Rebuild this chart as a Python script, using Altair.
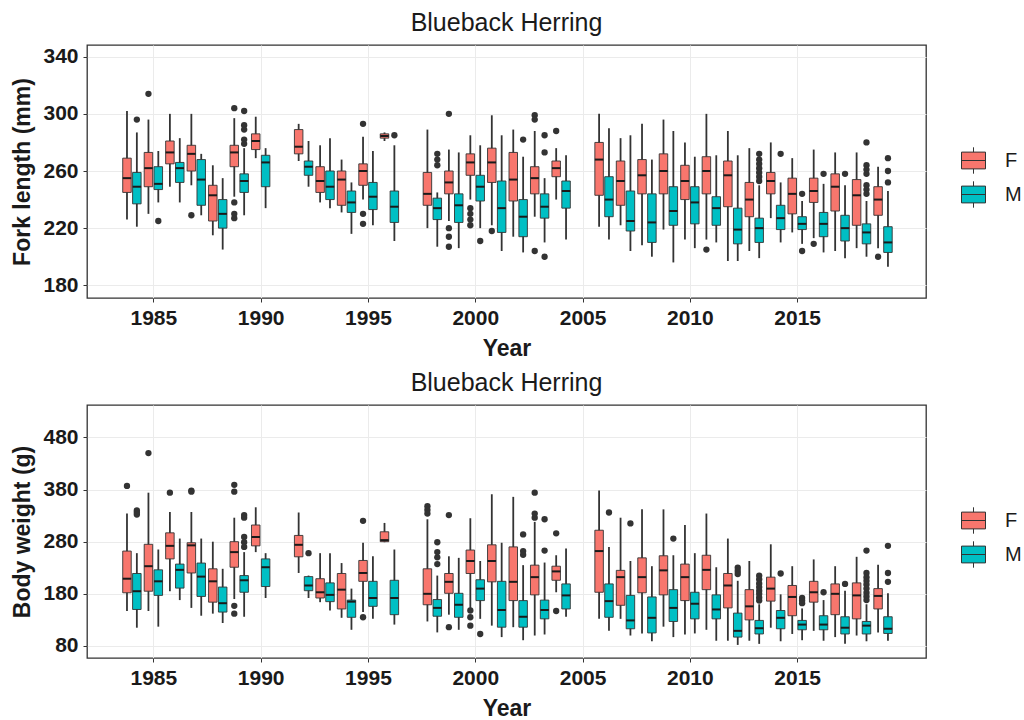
import altair as alt
import pandas as pd

years = [1984, 1985, 1986, 1987, 1988, 1989, 1990,
         1992, 1993, 1994, 1995, 1996,
         1998, 1999, 2000, 2001, 2002, 2003, 2004,
         2006, 2007, 2008, 2009, 2010, 2011, 2012, 2013, 2014, 2015, 2016, 2017, 2018, 2019]

# ---- Fork length (mm): lower whisker, Q1, median, Q3, upper whisker ----
fl_f_lo  = [226, 230, 249, 250, 215, 242, 269, 267, 238, 231, 240, 281, 220, 225, 240, 222, 214, 228, 240,
            221, 222, 208, 219, 212, 212, 197, 204, 227, 217, 213, 204, 206, 206]
fl_f_q1  = [245, 249, 265, 260, 225, 263, 275, 272, 245, 236, 250, 283, 236, 244, 257, 252, 239, 244, 256,
            243, 236, 244, 244, 240, 244, 235, 228, 244, 230, 238, 232, 222, 229]
fl_f_med = [255, 262, 273, 272, 243, 273, 281, 277, 253, 254, 260, 284.5, 244, 252, 266, 266, 254, 255, 262,
            268, 253, 257, 260, 253, 260, 257, 240, 253, 244, 246, 249, 243, 240]
fl_f_q3  = [269, 273, 281, 278, 250, 278, 286, 289, 263, 260, 265, 286, 259, 260, 272, 276, 273, 263, 267,
            280, 267, 268, 272, 264, 270, 267, 252, 259, 255, 255, 258, 254, 249]
fl_f_hi  = [302, 296, 300, 300, 264, 297, 298, 293, 278, 268, 284, 287, 289, 275, 285, 299, 289, 288, 276,
            300, 283, 293, 296, 280, 300, 288, 276, 280, 269, 275, 273, 273, 263]

fl_m_lo  = [221, 238, 238, 229, 205, 229, 234, 249, 234, 216, 222, 211, 207, 206, 220, 204, 203, 210, 212,
            212, 204, 200, 196, 206, 210, 197, 199, 210, 209, 203, 199, 200, 193]
fl_m_q1  = [237, 247, 252, 236, 220, 245, 249, 257, 240, 231, 233, 224, 226, 224, 239, 217, 214, 227, 234,
            228, 218, 210, 222, 223, 222, 209, 210, 219, 219, 214, 211, 209, 203]
fl_m_med = [249, 251, 262, 254, 230, 253, 266, 263, 249, 238, 242, 235, 234, 236, 249, 234, 228, 235, 246,
            240, 225, 224, 232, 238, 234, 219, 220, 227, 223, 223, 220, 217, 210]
fl_m_q3  = [259, 263, 266, 268, 240, 258, 271, 267, 260, 246, 252, 246, 241, 244, 257, 253, 240, 244, 253,
            256, 246, 244, 249, 249, 242, 234, 227, 236, 228, 231, 229, 223, 221]
fl_m_hi  = [287, 274, 283, 272, 255, 276, 276, 281, 283, 252, 274, 278, 245, 273, 278, 285, 270, 255, 271,
            290, 285, 268, 288, 270, 271, 271, 250, 252, 239, 251, 250, 239, 246]

fl_out_year = [1984, 1985, 1985, 1987, 1989, 1989, 1989, 1989,
               1989, 1989, 1989, 1989, 1989,
               1995, 1995, 1995, 1996, 1998, 1998, 1998,
               1999, 1999, 1999, 1999, 2000, 2000, 2000, 2000, 2000,
               2001, 2002, 2003, 2003, 2003, 2003, 2003, 2003, 2004,
               2011, 2013, 2013, 2013, 2013, 2013, 2013, 2013, 2014, 2015, 2015,
               2016, 2016, 2017, 2018, 2018, 2018, 2018, 2018, 2018, 2018,
               2019, 2019, 2019, 2019]
fl_out_sex = ["M", "F", "M", "F", "F", "F", "F", "F",
              "M", "M", "M", "M", "M",
              "F", "F", "F", "M", "M", "M", "M",
              "F", "F", "F", "F", "F", "F", "F", "F", "M",
              "F", "M", "F", "F", "F", "M", "M", "M", "F",
              "F", "M", "M", "M", "M", "M", "M", "M", "M", "M", "M",
              "F", "M", "M", "M", "M", "M", "M", "M", "M", "M",
              "F", "M", "M", "M"]
fl_out_val = [296, 314, 225, 229, 304, 238, 230, 227,
              302, 292, 289, 282, 279,
              293, 230, 223, 285, 272, 268, 264,
              300, 220, 214, 207, 234, 230, 226, 222, 211,
              218, 282, 299, 296, 204, 285, 273, 200, 288,
              205, 272, 268, 265, 262, 259, 256, 253, 272, 244, 204,
              209, 258, 258, 280, 264, 261, 258, 250, 247, 244,
              200, 269, 260, 252]

# ---- Body weight (g) ----
bw_f_lo  = [147, 147, 185, 153, 142, 170, 260, 220, 164, 134, 145, 279, 127, 140, 152, 119, 116, 100, 183,
            132, 132, 104, 117, 102, 111, 90, 90, 115, 103, 109, 97, 100, 106]
bw_f_q1  = [182, 185, 247, 220, 164, 231, 272, 251, 172, 151, 204, 280, 159, 181, 219, 203, 167, 178, 206,
            183, 158, 182, 178, 167, 188, 153, 130, 166, 138, 164, 140, 132, 151]
bw_f_med = [209, 233, 272, 273, 204, 260, 289, 274, 183, 188, 220, 283, 180, 203, 243, 243, 203, 212, 223,
            262, 212, 212, 225, 212, 226, 196, 156, 190, 174, 183, 180, 177, 176]
bw_f_q3  = [262, 275, 297, 278, 228, 280, 312, 292, 209, 219, 244, 299, 228, 219, 264, 274, 270, 235, 233,
            302, 225, 249, 253, 237, 254, 219, 188, 212, 196, 204, 199, 201, 190]
bw_f_hi  = [334, 374, 337, 337, 280, 326, 346, 336, 258, 239, 278, 316, 323, 252, 325, 371, 366, 318, 254,
            378, 326, 342, 342, 312, 334, 286, 243, 275, 233, 246, 233, 251, 236]

bw_m_lo  = [115, 117, 168, 138, 124, 136, 172, 172, 148, 111, 132, 121, 106, 111, 132, 97, 91, 102, 136,
            109, 100, 89, 97, 104, 90, 82, 84, 89, 91, 90, 84, 89, 90]
bw_m_q1  = [150, 177, 191, 175, 145, 183, 194, 186, 165, 135, 156, 140, 137, 135, 167, 116, 116, 132, 151,
            135, 113, 105, 127, 132, 132, 97, 103, 113, 111, 111, 103, 103, 104]
bw_m_med = [185, 204, 226, 213, 162, 206, 231, 196, 178, 165, 172, 172, 153, 159, 190, 149, 136, 149, 177,
            166, 129, 134, 153, 161, 150, 109, 114, 134, 121, 121, 115, 119, 113]
bw_m_q3  = [219, 226, 237, 239, 193, 215, 247, 213, 201, 168, 204, 206, 169, 181, 207, 204, 167, 168, 199,
            199, 177, 174, 188, 183, 178, 143, 129, 148, 129, 138, 136, 127, 136]
bw_m_hi  = [258, 265, 286, 286, 228, 260, 258, 215, 258, 190, 252, 265, 215, 249, 243, 278, 235, 240, 267,
            270, 243, 233, 254, 258, 231, 205, 160, 179, 152, 168, 186, 160, 181]

bw_out_year = [1984, 1984, 1984, 1984, 1985, 1986, 1987, 1987,
               1989, 1989, 1989, 1989, 1989, 1989, 1989, 1989, 1989,
               1992, 1995, 1995,
               1998, 1998, 1998, 1998, 1998, 1998, 1998,
               1999, 1999, 2000, 2000, 2000, 2000,
               2002, 2002, 2002, 2003, 2003, 2003, 2003, 2003, 2004, 2004,
               2006, 2007, 2009, 2012, 2012, 2012,
               2013, 2013, 2013, 2013, 2013, 2013, 2013, 2013,
               2014, 2015, 2015, 2015, 2016, 2017,
               2018, 2018, 2018, 2018, 2018, 2018, 2018, 2018, 2018,
               2019, 2019, 2019]
bw_out_sex = ["F", "M", "M", "M", "F", "F", "F", "F",
              "F", "F", "F", "F", "M", "M", "M", "M", "M",
              "M", "F", "F",
              "F", "F", "F", "M", "M", "M", "M",
              "F", "F", "F", "F", "F", "M",
              "M", "M", "M", "F", "F", "F", "M", "M", "F", "F",
              "M", "M", "M", "M", "M", "M",
              "M", "M", "M", "M", "M", "M", "M", "M",
              "M", "M", "M", "M", "M", "M",
              "M", "M", "M", "M", "M", "M", "M", "M", "M",
              "M", "M", "M"]
bw_out_val = [387, 340, 336, 332, 450, 374, 378, 376,
              389, 376, 157, 142, 331, 326, 289, 279, 270,
              258, 320, 135,
              348, 341, 334, 279, 260, 250, 237,
              331, 116, 148, 135, 119, 103,
              294, 262, 255, 374, 334, 326, 323, 263, 296, 147,
              336, 315, 286, 230, 224, 218,
              215, 208, 200, 193, 186, 180, 173, 167,
              219, 172, 167, 162, 183, 199,
              263, 220, 212, 205, 198, 190, 182, 175, 168,
              272, 220, 203]

x_ticks = [1985, 1990, 1995, 2000, 2005, 2010, 2015]
fl_ticks = [180, 220, 260, 300, 340]
bw_ticks = [80, 180, 280, 380, 480]
sexes = ["F", "M"]
sex_colors = ["#F8766D", "#00BFC4"]


def box_frame(f_lists, m_lists):
    rows = []
    for sex, lists in (("F", f_lists), ("M", m_lists)):
        lo, q1, med, q3, hi = lists
        for i, y in enumerate(years):
            rows.append({"Year": y, "Sex": sex, "lo": lo[i], "q1": q1[i],
                         "med": med[i], "q3": q3[i], "hi": hi[i]})
    return pd.DataFrame(rows)


def out_frame(yrs, sx, vals):
    return pd.DataFrame({"Year": yrs, "Sex": sx, "value": vals})


FONT = "Liberation Sans"
KEY_PATH = "M-1,-0.7H1V0.7H-1Z M0,-0.7V-1.1 M0,0.7V1.1 M-1,0H1"
OFFSET = "datum.Year + (datum.Sex == 'F' ? -0.23 : 0.23)"


def panel(boxes, outs, ydomain, yticks, ytitle):
    xscale = alt.Scale(domain=[1982.14, 2020.77], nice=False, zero=False)
    xaxis = alt.Axis(values=x_ticks, format="d", title="Year")
    yscale = alt.Scale(domain=ydomain, nice=False, zero=False)
    yaxis = alt.Axis(values=yticks, title=ytitle)

    def X():
        return alt.X("xpos:Q", scale=xscale, axis=xaxis)

    whisk = alt.Chart(boxes).transform_calculate(xpos=OFFSET).mark_rule(
        color="#333333", strokeWidth=1.8
    ).encode(x=X(), y=alt.Y("lo:Q", scale=yscale, axis=yaxis), y2="hi:Q")

    box = alt.Chart(boxes).transform_calculate(xpos=OFFSET).mark_bar(
        size=8.5, stroke="#333333", strokeWidth=0.9, opacity=1
    ).encode(
        x=X(),
        y=alt.Y("q1:Q", scale=yscale, axis=yaxis),
        y2="q3:Q",
        color=alt.Color(
            "Sex:N",
            scale=alt.Scale(domain=sexes, range=sex_colors),
            legend=alt.Legend(
                title=None, orient="none", legendX=874, legendY=103,
                symbolType=KEY_PATH, symbolSize=576, symbolStrokeColor="#333333",
                symbolStrokeWidth=1, symbolOpacity=1, labelFontSize=20,
                labelFont=FONT, labelColor="#1a1a1a", labelOffset=19, rowPadding=3,
            ),
        ),
    )

    med = alt.Chart(boxes).transform_calculate(xpos=OFFSET).mark_tick(
        orient="horizontal", size=8.5, thickness=2, color="#1a1a1a", opacity=1
    ).encode(x=X(), y=alt.Y("med:Q", scale=yscale, axis=yaxis))

    pts = alt.Chart(outs).transform_calculate(xpos=OFFSET).mark_circle(
        size=40, color="#333333", opacity=1
    ).encode(x=X(), y=alt.Y("value:Q", scale=yscale, axis=yaxis))

    return alt.layer(whisk, box, med, pts).properties(
        width=839, height=253,
        title=alt.TitleParams("Blueback Herring", fontSize=25, fontWeight="normal",
                              font=FONT, color="#1a1a1a", anchor="middle", offset=9),
    )


fl_boxes = box_frame([fl_f_lo, fl_f_q1, fl_f_med, fl_f_q3, fl_f_hi],
                     [fl_m_lo, fl_m_q1, fl_m_med, fl_m_q3, fl_m_hi])
bw_boxes = box_frame([bw_f_lo, bw_f_q1, bw_f_med, bw_f_q3, bw_f_hi],
                     [bw_m_lo, bw_m_q1, bw_m_med, bw_m_q3, bw_m_hi])

top = panel(fl_boxes, out_frame(fl_out_year, fl_out_sex, fl_out_val),
            [171.1, 348.2], fl_ticks, "Fork length (mm)")
bottom = panel(bw_boxes, out_frame(bw_out_year, bw_out_sex, bw_out_val),
               [56.9, 542.2], bw_ticks, "Body weight (g)")

chart = alt.vconcat(top, bottom, spacing=9).resolve_legend(color="independent").properties(
    padding={"left": 11, "top": 10, "right": 0, "bottom": 0},
    background="white",
).configure_view(
    stroke="#333333", strokeWidth=1.3
).configure_axis(
    grid=True, gridColor="#EBEBEB", gridWidth=1, domain=False,
    tickColor="#333333", tickSize=4, tickWidth=1,
    labelFont=FONT, labelFontSize=21, labelFontWeight="bold", labelColor="#1a1a1a",
    titleFont=FONT, titleFontSize=23, titleFontWeight="bold", titleColor="#1a1a1a",
).configure_axisX(labelPadding=5, titlePadding=9).configure_axisY(labelPadding=5, titlePadding=8)

chart.save("out.html", embed_options={"renderer": "svg", "actions": False})
